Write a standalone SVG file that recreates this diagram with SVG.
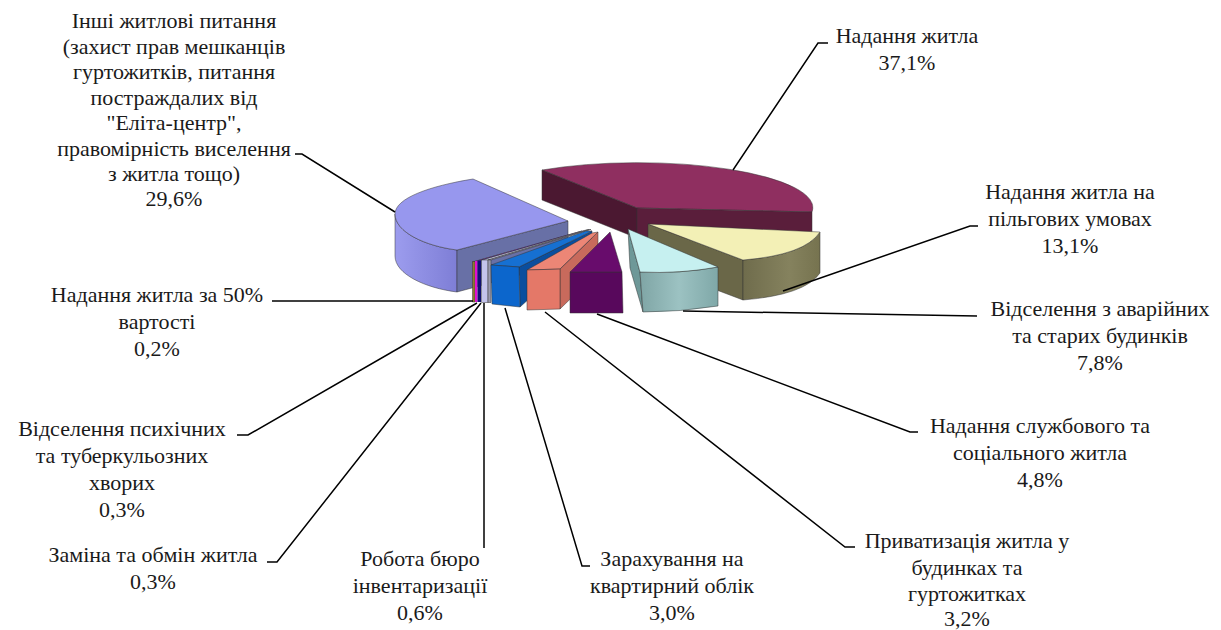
<svg xmlns="http://www.w3.org/2000/svg" width="1221" height="630" viewBox="0 0 1221 630">
<style>
.lbl{font-size:22px;fill:#1a1a1a;text-anchor:middle}
.f{stroke:#333;stroke-width:0.7;stroke-opacity:0.7;stroke-linejoin:round}
.ld{fill:none;stroke:#000;stroke-width:1.5}
</style>
<defs>
<linearGradient id="gLavSide" x1="0" y1="0" x2="1" y2="0"><stop offset="0" stop-color="#9C9CEE"/><stop offset="1" stop-color="#7E7ED6"/></linearGradient>
<linearGradient id="gCyanF" x1="0" y1="0" x2="1" y2="0"><stop offset="0" stop-color="#7FA5A5"/><stop offset="0.5" stop-color="#9CC2C2"/><stop offset="1" stop-color="#7FA8A8"/></linearGradient>
<linearGradient id="gKhaki" x1="0" y1="0" x2="1" y2="0"><stop offset="0" stop-color="#6F6C4C"/><stop offset="0.6" stop-color="#85825E"/><stop offset="1" stop-color="#76734F"/></linearGradient>
</defs>
<rect width="1221" height="630" fill="#fff"/>

<g id="slice-nadannia">
<path class="f" d="M637,208 L542,170 A175,45 0 0 1 812,212 Z" fill="#8F2F60"/>
<path class="f" d="M542,170 L637,208 L637,238 L542,200 Z" fill="#4B1831"/>
<path class="f" d="M637,208 L812,212 L812,242 L637,238 Z" fill="#5A1E3B"/>
</g>

<g id="slice-pilhovi">
<path class="f" d="M648,224 L743,260 L743,300 L648,264 Z" fill="#6A6748"/>
<path class="f" d="M820,232 Q805,255 743,260 L743,300 Q805,295 820,273 Z" fill="url(#gKhaki)"/>
<path class="f" d="M648,224 L820,232 Q805,255 743,260 Z" fill="#F3F0B6"/>
</g>

<g id="slice-inshi">
<path class="f" d="M395,214 C395,232 425,246 457,250 L457,292 C425,288 395,274 395,256 Z" fill="url(#gLavSide)"/>
<path class="f" d="M457,250 L568,221 L568,262 L457,292 Z" fill="#6870A6"/>
<path class="f" d="M473,179 C430,186 395,198 395,214 C395,232 425,246 457,250 L568,221 Z" fill="#9797EE"/>
</g>

<g id="slice-50">
<path class="f" d="M472.5,262 L475,261.5 L582,231 L580,231.5 Z" fill="#A89040"/>
<rect class="f" x="472.5" y="261.5" width="2.5" height="40.5" fill="#8C7A30"/>
</g>
<g id="slice-psykhichni">
<path d="M475,261.5 L477.5,261 L584,230.5 L582,231 Z" fill="#E020D0"/>
<rect x="475" y="261" width="2.5" height="41" fill="#E010D0"/>
</g>
<g id="slice-zamina">
<path d="M477.5,261 L481,260.5 L586,230 L584,230.5 Z" fill="#1A1A80"/>
<rect x="477.5" y="260.5" width="3.5" height="41.5" fill="#101070"/>
</g>
<g id="slice-biuro">
<path class="f" d="M481,260.5 L488,260 L589,229.5 L586,230 Z" fill="#E4E4F8"/>
<rect class="f" x="481.5" y="260" width="6.5" height="42.5" fill="#C4C4EC"/>
<path class="f" d="M488,260 L491,260 L591,229.5 L589,229.5 Z" fill="#A0A0B4"/>
<rect class="f" x="488" y="260" width="3" height="42.5" fill="#9A9AAE"/>
</g>

<g id="slice-zarakhuvannia">
<path class="f" d="M519,267 L592,231 L592,242 L520,307 Z" fill="#0A4E9E"/>
<path class="f" d="M491,265 L519,267 L592,231 L586,231 Z" fill="#1670D2"/>
<path class="f" d="M491,265 L519,267 L520,307 L492,304 Z" fill="#0C66CC"/>
</g>

<g id="slice-pryvatyzatsiia">
<path class="f" d="M560,269 L598,232 L598,272 L560,309 Z" fill="#C86A5C"/>
<path class="f" d="M527,270 L560,269 L598,232 L592,233 Z" fill="#EC8676"/>
<path class="f" d="M527,270 L560,269 L560,309 L527,310 Z" fill="#E47868"/>
</g>

<g id="slice-sluzhbove">
<path class="f" d="M570,272 L622,272 L623,313 L570,313 Z" fill="#58085C"/>
<path class="f" d="M610,232 L570,272 L622,272 Z" fill="#680C6C"/>
</g>

<g id="slice-avariini">
<path class="f" d="M628,229 L640,272 L643,312 L630,268 Z" fill="#6E9898"/>
<path class="f" d="M640,272 Q680,274 718,267 L718,306 Q680,312 643,312 Z" fill="url(#gCyanF)"/>
<path class="f" d="M628,229 L718,267 Q680,274 640,272 Z" fill="#C6F0F0"/>
</g>

<g id="connectors">
<polyline class="ld" points="733,170 818,43 828,43"/>
<polyline class="ld" points="783,291 970,226 978,226"/>
<polyline class="ld" points="683,311 977,316"/>
<polyline class="ld" points="597,314 910,432 918,432"/>
<polyline class="ld" points="545,312 845,547 855,547"/>
<polyline class="ld" points="505,308 582,566 590,566"/>
<polyline class="ld" points="484,303 484,548"/>
<polyline class="ld" points="481,303 277,562 267,562"/>
<polyline class="ld" points="477,303 248,435 237,435"/>
<polyline class="ld" points="473,301 272,301"/>
<polyline class="ld" points="395,212 302,154 295,154"/>
</g>

<g id="labels" font-family="Liberation Serif, Times New Roman, serif">
<g id="label-nadannia"><text class="lbl" x="907" y="43">Надання житла</text><text class="lbl" x="907" y="70">37,1%</text></g>
<g id="label-pilhovi"><text class="lbl" x="1070" y="199">Надання житла на</text><text class="lbl" x="1070" y="226">пільгових умовах</text><text class="lbl" x="1070" y="253">13,1%</text></g>
<g id="label-avariini"><text class="lbl" x="1100" y="316">Відселення з аварійних</text><text class="lbl" x="1100" y="343">та старих будинків</text><text class="lbl" x="1100" y="370">7,8%</text></g>
<g id="label-sluzhbove"><text class="lbl" x="1040" y="433">Надання службового та</text><text class="lbl" x="1040" y="460">соціального житла</text><text class="lbl" x="1040" y="487">4,8%</text></g>
<g id="label-pryvatyzatsiia"><text class="lbl" x="967" y="548">Приватизація житла у</text><text class="lbl" x="967" y="575">будинках та</text><text class="lbl" x="967" y="601">гуртожитках</text><text class="lbl" x="967" y="626">3,2%</text></g>
<g id="label-zarakhuvannia"><text class="lbl" x="672" y="566">Зарахування на</text><text class="lbl" x="672" y="593">квартирний облік</text><text class="lbl" x="672" y="620">3,0%</text></g>
<g id="label-biuro"><text class="lbl" x="420" y="566">Робота бюро</text><text class="lbl" x="420" y="593">інвентаризації</text><text class="lbl" x="420" y="620">0,6%</text></g>
<g id="label-zamina"><text class="lbl" x="153" y="562">Заміна та обмін житла</text><text class="lbl" x="153" y="589">0,3%</text></g>
<g id="label-psykhichni"><text class="lbl" x="122" y="436">Відселення психічних</text><text class="lbl" x="122" y="463">та туберкульозних</text><text class="lbl" x="122" y="490">хворих</text><text class="lbl" x="122" y="517">0,3%</text></g>
<g id="label-50"><text class="lbl" x="157" y="302">Надання житла за 50%</text><text class="lbl" x="157" y="329">вартості</text><text class="lbl" x="157" y="356">0,2%</text></g>
<g id="label-inshi"><text class="lbl" x="174" y="28">Інші житлові питання</text><text class="lbl" x="174" y="54">(захист прав мешканців</text><text class="lbl" x="174" y="79">гуртожитків, питання</text><text class="lbl" x="174" y="105">постраждалих від</text><text class="lbl" x="174" y="130">"Еліта-центр",</text><text class="lbl" x="174" y="156">правомірність виселення</text><text class="lbl" x="174" y="181">з житла тощо)</text><text class="lbl" x="174" y="206">29,6%</text></g>
</g>
</svg>
